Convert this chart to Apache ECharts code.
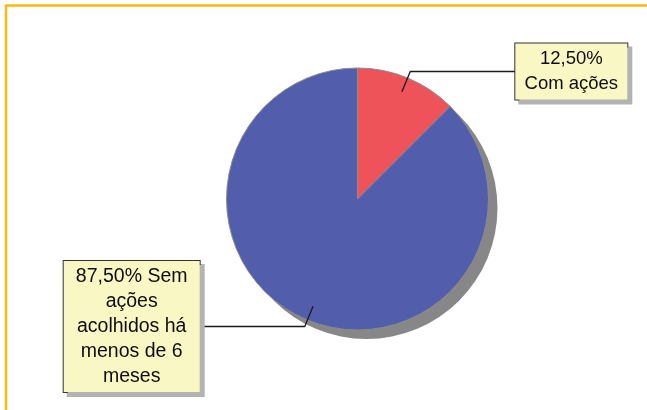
<!DOCTYPE html>
<html><head><meta charset="utf-8">
<script src="https://cdn.jsdelivr.net/npm/echarts@6/dist/echarts.min.js"></script>
<style>html,body{margin:0;padding:0;background:#fff}#c{width:647px;height:410px}</style>
</head>
<body><div id="c"></div>
<script>
const categories = ['Com ações', 'Sem ações acolhidos há menos de 6 meses'];
const values = [12.5, 87.5];
const labelLines = [['12,50%', 'Com ações'], ['87,50% Sem', 'ações', 'acolhidos há', 'menos de 6', 'meses']];
const colors = ['#EE5359', '#525EAB'];
const labelTextWidth = [92, 116];
const labelFontSize = [18.5, 19.5];

const chart = echarts.init(document.getElementById('c'), null, {renderer: 'canvas'});
const center = [357.5, 199];

const mainData = categories.map((n, i) => ({name: n, value: values[i], itemStyle: {color: colors[i]}}));
const labelData = categories.map((n, i) => ({name: n, value: values[i]}));

const rich = {};
labelTextWidth.forEach((w, i) => {
  rich['t' + i] = {
    width: w, align: 'center',
    fontFamily: 'Liberation Sans, Arial, sans-serif',
    fontSize: labelFontSize[i], lineHeight: 25, color: '#0d0d0d'
  };
});

chart.setOption({
  animation: false,
  backgroundColor: '#ffffff',
  graphic: [
    {type: 'line', shape: {x1: 5, y1: 5.5, x2: 647, y2: 5.5}, style: {stroke: '#FDB913', lineWidth: 2.5}, z: 100},
    {type: 'line', shape: {x1: 6, y1: 5, x2: 6, y2: 410}, style: {stroke: '#FDB913', lineWidth: 2.5}, z: 100}
  ],
  series: [
    {
      type: 'pie', silent: true, z: 1,
      center: [center[0] + 9, center[1] + 9], radius: 131,
      data: [{value: 1, itemStyle: {color: '#878787'}}],
      label: {show: false}, labelLine: {show: false}
    },
    {
      type: 'pie', silent: true, z: 2,
      center: center, radius: 131, startAngle: 90, clockwise: true,
      data: mainData,
      itemStyle: {borderColor: '#8c8c8c', borderWidth: 1},
      label: {show: false}, labelLine: {show: false}
    },
    {
      type: 'pie', silent: true, z: 3,
      center: center, radius: 116, startAngle: 90, clockwise: true,
      avoidLabelOverlap: false,
      data: labelData,
      itemStyle: {color: 'rgba(0,0,0,0)', borderWidth: 0},
      label: {
        show: true, position: 'outside', alignTo: 'none',
        distanceToLabelLine: 0,
        formatter: p => labelLines[p.dataIndex].map(s => '{t' + p.dataIndex + '|' + s + '}').join('\n'),
        rich: rich,
        padding: [3, 10, 3, 10],
        backgroundColor: '#F9F7C3', borderColor: '#333', borderWidth: 1,
        shadowColor: '#b3b3b3', shadowBlur: 0, shadowOffsetX: 4, shadowOffsetY: 4
      },
      labelLine: {
        show: true, length: 22, length2: 105, smooth: false,
        lineStyle: {color: '#1a1a1a', width: 1.3}
      }
    }
  ]
});
</script>
</body></html>
